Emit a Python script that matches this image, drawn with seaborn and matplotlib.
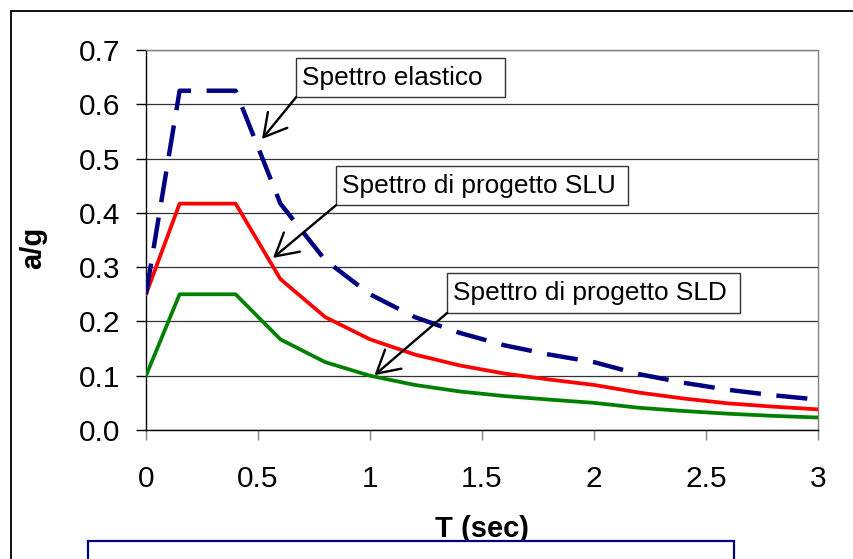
import numpy as np
import pandas as pd
import seaborn as sns
import matplotlib.pyplot as plt
from matplotlib.patches import Rectangle
from matplotlib.ticker import FormatStrFormatter, MultipleLocator

# periodo T (sec) e ordinate spettrali a/g
periodi = [0, 0.15, 0.4, 0.6, 0.8, 1.0, 1.2, 1.4, 1.6, 1.8, 2.0, 2.2, 2.4, 2.6, 2.8, 3.0]
elastico = [0.25, 0.625, 0.625, 0.417, 0.313, 0.25, 0.208, 0.179, 0.156, 0.139, 0.125,
            0.103, 0.087, 0.074, 0.064, 0.056]
slu = [0.25, 0.417, 0.417, 0.278, 0.208, 0.167, 0.139, 0.119, 0.104, 0.093, 0.083,
       0.069, 0.058, 0.049, 0.043, 0.038]
sld = [0.10, 0.25, 0.25, 0.167, 0.125, 0.10, 0.083, 0.071, 0.0625, 0.056, 0.05,
       0.041, 0.035, 0.030, 0.026, 0.023]

sns.set_theme(style="white")
plt.rcParams['font.family'] = ['Liberation Sans', 'DejaVu Sans']

fig = plt.figure(figsize=(8.54, 5.59), dpi=100)
ax = fig.add_axes([146/854, 1-430/559, 672/854, 380/559])

sns.lineplot(x=periodi, y=sld, ax=ax, color='#008000', lw=2.7,
             estimator=None, sort=False, zorder=3)
sns.lineplot(x=periodi, y=slu, ax=ax, color='#FF0000', lw=2.7,
             estimator=None, sort=False, zorder=3)
sns.lineplot(x=periodi, y=elastico, ax=ax, color='#000080', lw=3.2,
             linestyle=(0, (7, 3.5)), estimator=None, sort=False, zorder=4)

ax.set_xlim(0, 3)
ax.set_ylim(0, 0.7)
ax.xaxis.set_major_locator(MultipleLocator(0.5))
ax.yaxis.set_major_locator(MultipleLocator(0.1))
ax.yaxis.set_major_formatter(FormatStrFormatter('%.1f'))
ax.xaxis.set_major_formatter(FormatStrFormatter('%g'))

ax.set_axisbelow(True)
ax.yaxis.grid(True, color='#333333', lw=0.9)
ax.xaxis.grid(False)
for s in ['left', 'bottom']:
    ax.spines[s].set_color('black')
    ax.spines[s].set_linewidth(1)
for s in ['top', 'right']:
    ax.spines[s].set_color('#808080')
    ax.spines[s].set_linewidth(1)

ax.tick_params(axis='y', left=True, direction='out', length=7.2, width=1,
               color='black', pad=11, labelsize=21.5, labelcolor='black')
ax.tick_params(axis='x', bottom=True, direction='out', length=7.2, width=1,
               color='#808080', pad=18, labelsize=21.5, labelcolor='black')

ax.set_xlabel('T (sec)', fontsize=21, fontweight='bold', color='black')
ax.xaxis.set_label_coords(0.5, -0.2816)
ax.xaxis.label.set_va('baseline')
ax.set_ylabel('a/g', fontsize=21, fontweight='bold', color='black')
ax.yaxis.set_label_coords(-0.168, 0.479)
ax.yaxis.label.set_va('center')

# caselle di testo con frecce
etichette = [
    ('Spettro elastico', (0.670, 0.613, 1.603, 0.685), 0.696, (0.518, 0.536)),
    ('Spettro di progetto SLU', (0.848, 0.414, 2.152, 0.486), 0.875, (0.567, 0.317)),
    ('Spettro di progetto SLD', (1.344, 0.2155, 2.652, 0.289), 1.371, (1.02, 0.101)),
]
for testo, (x0, y0, x1, y1), xt, punta in etichette:
    ax.add_patch(Rectangle((x0, y0), x1-x0, y1-y0, fc='white', ec='#333333',
                           lw=1, zorder=5, clip_on=False))
    ax.text(xt, (y0+y1)/2, testo, fontsize=18.9, ha='left', va='center',
            color='black', zorder=6)
    ax.annotate('', xy=punta, xytext=(x0, y0), zorder=6,
                arrowprops=dict(arrowstyle='->,head_length=0.8,head_width=0.45',
                                mutation_scale=20, lw=1.7, color='black',
                                shrinkA=0, shrinkB=0))

# cornice esterna e riquadro in basso (tagliati dal bordo)
fig.add_artist(Rectangle((11/854, -0.05), 1.0, 1-11/559+0.05, transform=fig.transFigure,
                         fill=False, ec='black', lw=1.3))
fig.add_artist(Rectangle((88/854, -0.05), (734-88)/854, (559-541)/559+0.05,
                         transform=fig.transFigure, fc='white', ec='#000080', lw=1.6))

fig.savefig('out.png', dpi=100)
